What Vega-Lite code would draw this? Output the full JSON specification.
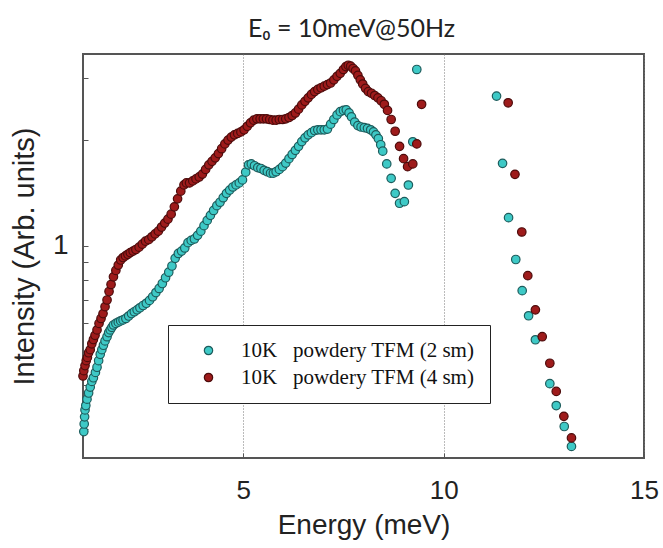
{
"$schema": "https://vega.github.io/schema/vega-lite/v6.json",
"width": 561, "height": 404,
"autosize": "none",
"padding": {"left": 83, "top": 54, "right": 19, "bottom": 90},
"background": "white",
"title": {"text": "E₀ = 10meV@50Hz", "font": "Lato", "fontSize": 25, "fontWeight": "normal", "color": "#222", "offset": 12, "dx": -12},
"config": {"view": {"stroke": "#555", "strokeWidth": 2}},
"data": {"values": [
{"s":"2 sm","E":1.02,"I":0.295},{"s":"2 sm","E":1.03,"I":0.31},{"s":"2 sm","E":1.04,"I":0.325},{"s":"2 sm","E":1.05,"I":0.34},{"s":"2 sm","E":1.07,"I":0.35},{"s":"2 sm","E":1.10,"I":0.365},{"s":"2 sm","E":1.14,"I":0.38},{"s":"2 sm","E":1.18,"I":0.395},{"s":"2 sm","E":1.22,"I":0.41},{"s":"2 sm","E":1.26,"I":0.42},{"s":"2 sm","E":1.31,"I":0.435},{"s":"2 sm","E":1.35,"I":0.45},{"s":"2 sm","E":1.39,"I":0.47},{"s":"2 sm","E":1.43,"I":0.49},{"s":"2 sm","E":1.47,"I":0.505},{"s":"2 sm","E":1.51,"I":0.52},{"s":"2 sm","E":1.55,"I":0.535},{"s":"2 sm","E":1.60,"I":0.55},{"s":"2 sm","E":1.64,"I":0.565},{"s":"2 sm","E":1.68,"I":0.575},{"s":"2 sm","E":1.72,"I":0.585},{"s":"2 sm","E":1.76,"I":0.594},{"s":"2 sm","E":1.82,"I":0.6},{"s":"2 sm","E":1.88,"I":0.605},{"s":"2 sm","E":1.94,"I":0.61},{"s":"2 sm","E":2.00,"I":0.614},{"s":"2 sm","E":2.07,"I":0.62},{"s":"2 sm","E":2.14,"I":0.63},{"s":"2 sm","E":2.21,"I":0.64},{"s":"2 sm","E":2.28,"I":0.648},{"s":"2 sm","E":2.35,"I":0.656},{"s":"2 sm","E":2.42,"I":0.665},{"s":"2 sm","E":2.50,"I":0.675},{"s":"2 sm","E":2.58,"I":0.685},{"s":"2 sm","E":2.66,"I":0.698},{"s":"2 sm","E":2.74,"I":0.715},{"s":"2 sm","E":2.82,"I":0.735},{"s":"2 sm","E":2.90,"I":0.755},{"s":"2 sm","E":2.98,"I":0.78},{"s":"2 sm","E":3.06,"I":0.81},{"s":"2 sm","E":3.14,"I":0.84},{"s":"2 sm","E":3.22,"I":0.875},{"s":"2 sm","E":3.30,"I":0.92},{"s":"2 sm","E":3.38,"I":0.95},{"s":"2 sm","E":3.46,"I":0.965},{"s":"2 sm","E":3.54,"I":0.985},{"s":"2 sm","E":3.62,"I":1.02},{"s":"2 sm","E":3.70,"I":1.035},{"s":"2 sm","E":3.78,"I":1.045},{"s":"2 sm","E":3.86,"I":1.07},{"s":"2 sm","E":3.94,"I":1.10},{"s":"2 sm","E":4.02,"I":1.14},{"s":"2 sm","E":4.10,"I":1.18},{"s":"2 sm","E":4.18,"I":1.22},{"s":"2 sm","E":4.26,"I":1.26},{"s":"2 sm","E":4.34,"I":1.30},{"s":"2 sm","E":4.42,"I":1.33},{"s":"2 sm","E":4.50,"I":1.37},{"s":"2 sm","E":4.58,"I":1.41},{"s":"2 sm","E":4.66,"I":1.44},{"s":"2 sm","E":4.74,"I":1.47},{"s":"2 sm","E":4.82,"I":1.49},{"s":"2 sm","E":4.90,"I":1.51},{"s":"2 sm","E":4.98,"I":1.54},{"s":"2 sm","E":5.06,"I":1.62},{"s":"2 sm","E":5.13,"I":1.70},{"s":"2 sm","E":5.20,"I":1.71},{"s":"2 sm","E":5.28,"I":1.69},{"s":"2 sm","E":5.36,"I":1.67},{"s":"2 sm","E":5.44,"I":1.66},{"s":"2 sm","E":5.52,"I":1.64},{"s":"2 sm","E":5.60,"I":1.625},{"s":"2 sm","E":5.68,"I":1.61},{"s":"2 sm","E":5.75,"I":1.61},{"s":"2 sm","E":5.82,"I":1.625},{"s":"2 sm","E":5.90,"I":1.65},{"s":"2 sm","E":5.98,"I":1.68},{"s":"2 sm","E":6.06,"I":1.72},{"s":"2 sm","E":6.14,"I":1.77},{"s":"2 sm","E":6.22,"I":1.82},{"s":"2 sm","E":6.30,"I":1.87},{"s":"2 sm","E":6.38,"I":1.92},{"s":"2 sm","E":6.46,"I":1.98},{"s":"2 sm","E":6.54,"I":2.03},{"s":"2 sm","E":6.62,"I":2.07},{"s":"2 sm","E":6.70,"I":2.10},{"s":"2 sm","E":6.78,"I":2.13},{"s":"2 sm","E":6.86,"I":2.14},{"s":"2 sm","E":6.94,"I":2.14},{"s":"2 sm","E":7.02,"I":2.14},{"s":"2 sm","E":7.10,"I":2.15},{"s":"2 sm","E":7.18,"I":2.22},{"s":"2 sm","E":7.26,"I":2.29},{"s":"2 sm","E":7.34,"I":2.36},{"s":"2 sm","E":7.42,"I":2.41},{"s":"2 sm","E":7.50,"I":2.43},{"s":"2 sm","E":7.57,"I":2.44},{"s":"2 sm","E":7.64,"I":2.39},{"s":"2 sm","E":7.70,"I":2.33},{"s":"2 sm","E":7.78,"I":2.25},{"s":"2 sm","E":7.86,"I":2.20},{"s":"2 sm","E":7.94,"I":2.18},{"s":"2 sm","E":8.02,"I":2.17},{"s":"2 sm","E":8.10,"I":2.16},{"s":"2 sm","E":8.18,"I":2.14},{"s":"2 sm","E":8.25,"I":2.11},{"s":"2 sm","E":8.31,"I":2.07},{"s":"2 sm","E":8.37,"I":2.02},{"s":"2 sm","E":8.43,"I":1.94},{"s":"2 sm","E":8.48,"I":1.86},{"s":"2 sm","E":8.58,"I":1.71},{"s":"2 sm","E":8.69,"I":1.556},{"s":"2 sm","E":8.79,"I":1.41},{"s":"2 sm","E":8.90,"I":1.321},{"s":"2 sm","E":9.02,"I":1.335},{"s":"2 sm","E":9.12,"I":1.489},{"s":"2 sm","E":9.23,"I":1.978},{"s":"2 sm","E":9.33,"I":3.18},
{"s":"2 sm","E":11.32,"I":2.67},{"s":"2 sm","E":11.47,"I":1.717},{"s":"2 sm","E":11.62,"I":1.202},{"s":"2 sm","E":11.80,"I":0.913},{"s":"2 sm","E":11.96,"I":0.744},{"s":"2 sm","E":12.12,"I":0.631},{"s":"2 sm","E":12.29,"I":0.539},{"s":"2 sm","E":12.65,"I":0.404},{"s":"2 sm","E":12.81,"I":0.35},{"s":"2 sm","E":13.01,"I":0.305},{"s":"2 sm","E":13.19,"I":0.2676},
{"s":"4 sm","E":1.00,"I":0.425},{"s":"4 sm","E":1.02,"I":0.44},{"s":"4 sm","E":1.05,"I":0.455},{"s":"4 sm","E":1.08,"I":0.47},{"s":"4 sm","E":1.11,"I":0.48},{"s":"4 sm","E":1.14,"I":0.495},{"s":"4 sm","E":1.18,"I":0.505},{"s":"4 sm","E":1.22,"I":0.525},{"s":"4 sm","E":1.26,"I":0.54},{"s":"4 sm","E":1.30,"I":0.555},{"s":"4 sm","E":1.35,"I":0.575},{"s":"4 sm","E":1.40,"I":0.60},{"s":"4 sm","E":1.45,"I":0.62},{"s":"4 sm","E":1.50,"I":0.64},{"s":"4 sm","E":1.55,"I":0.67},{"s":"4 sm","E":1.60,"I":0.70},{"s":"4 sm","E":1.65,"I":0.74},{"s":"4 sm","E":1.70,"I":0.775},{"s":"4 sm","E":1.76,"I":0.815},{"s":"4 sm","E":1.82,"I":0.85},{"s":"4 sm","E":1.88,"I":0.88},{"s":"4 sm","E":1.94,"I":0.91},{"s":"4 sm","E":2.00,"I":0.925},{"s":"4 sm","E":2.06,"I":0.935},{"s":"4 sm","E":2.12,"I":0.945},{"s":"4 sm","E":2.18,"I":0.955},{"s":"4 sm","E":2.25,"I":0.965},{"s":"4 sm","E":2.32,"I":0.975},{"s":"4 sm","E":2.40,"I":0.99},{"s":"4 sm","E":2.48,"I":1.01},{"s":"4 sm","E":2.56,"I":1.03},{"s":"4 sm","E":2.64,"I":1.04},{"s":"4 sm","E":2.72,"I":1.06},{"s":"4 sm","E":2.80,"I":1.08},{"s":"4 sm","E":2.88,"I":1.10},{"s":"4 sm","E":2.96,"I":1.13},{"s":"4 sm","E":3.04,"I":1.16},{"s":"4 sm","E":3.12,"I":1.19},{"s":"4 sm","E":3.20,"I":1.23},{"s":"4 sm","E":3.28,"I":1.29},{"s":"4 sm","E":3.36,"I":1.36},{"s":"4 sm","E":3.44,"I":1.43},{"s":"4 sm","E":3.52,"I":1.49},{"s":"4 sm","E":3.58,"I":1.51},{"s":"4 sm","E":3.66,"I":1.51},{"s":"4 sm","E":3.74,"I":1.53},{"s":"4 sm","E":3.82,"I":1.55},{"s":"4 sm","E":3.90,"I":1.57},{"s":"4 sm","E":3.98,"I":1.60},{"s":"4 sm","E":4.06,"I":1.65},{"s":"4 sm","E":4.14,"I":1.70},{"s":"4 sm","E":4.22,"I":1.74},{"s":"4 sm","E":4.30,"I":1.78},{"s":"4 sm","E":4.38,"I":1.83},{"s":"4 sm","E":4.46,"I":1.89},{"s":"4 sm","E":4.54,"I":1.95},{"s":"4 sm","E":4.62,"I":2.00},{"s":"4 sm","E":4.70,"I":2.04},{"s":"4 sm","E":4.78,"I":2.07},{"s":"4 sm","E":4.86,"I":2.09},{"s":"4 sm","E":4.94,"I":2.11},{"s":"4 sm","E":5.02,"I":2.14},{"s":"4 sm","E":5.10,"I":2.19},{"s":"4 sm","E":5.18,"I":2.24},{"s":"4 sm","E":5.26,"I":2.28},{"s":"4 sm","E":5.34,"I":2.30},{"s":"4 sm","E":5.42,"I":2.30},{"s":"4 sm","E":5.50,"I":2.30},{"s":"4 sm","E":5.58,"I":2.30},{"s":"4 sm","E":5.66,"I":2.29},{"s":"4 sm","E":5.74,"I":2.28},{"s":"4 sm","E":5.82,"I":2.28},{"s":"4 sm","E":5.90,"I":2.29},{"s":"4 sm","E":5.98,"I":2.29},{"s":"4 sm","E":6.06,"I":2.30},{"s":"4 sm","E":6.14,"I":2.32},{"s":"4 sm","E":6.22,"I":2.35},{"s":"4 sm","E":6.30,"I":2.39},{"s":"4 sm","E":6.38,"I":2.45},{"s":"4 sm","E":6.46,"I":2.52},{"s":"4 sm","E":6.54,"I":2.58},{"s":"4 sm","E":6.62,"I":2.64},{"s":"4 sm","E":6.70,"I":2.70},{"s":"4 sm","E":6.78,"I":2.75},{"s":"4 sm","E":6.86,"I":2.79},{"s":"4 sm","E":6.94,"I":2.82},{"s":"4 sm","E":7.02,"I":2.85},{"s":"4 sm","E":7.10,"I":2.88},{"s":"4 sm","E":7.18,"I":2.91},{"s":"4 sm","E":7.26,"I":2.97},{"s":"4 sm","E":7.34,"I":3.04},{"s":"4 sm","E":7.42,"I":3.10},{"s":"4 sm","E":7.50,"I":3.18},{"s":"4 sm","E":7.56,"I":3.24},{"s":"4 sm","E":7.62,"I":3.27},{"s":"4 sm","E":7.68,"I":3.25},{"s":"4 sm","E":7.74,"I":3.20},{"s":"4 sm","E":7.80,"I":3.15},{"s":"4 sm","E":7.86,"I":3.06},{"s":"4 sm","E":7.92,"I":2.97},{"s":"4 sm","E":7.98,"I":2.89},{"s":"4 sm","E":8.05,"I":2.81},{"s":"4 sm","E":8.12,"I":2.75},{"s":"4 sm","E":8.20,"I":2.72},{"s":"4 sm","E":8.28,"I":2.68},{"s":"4 sm","E":8.36,"I":2.64},{"s":"4 sm","E":8.44,"I":2.59},{"s":"4 sm","E":8.52,"I":2.53},{"s":"4 sm","E":8.60,"I":2.43},{"s":"4 sm","E":8.69,"I":2.29},{"s":"4 sm","E":8.79,"I":2.12},{"s":"4 sm","E":8.90,"I":1.92},{"s":"4 sm","E":9.00,"I":1.77},{"s":"4 sm","E":9.10,"I":1.68},{"s":"4 sm","E":9.23,"I":1.71},{"s":"4 sm","E":9.33,"I":1.95},{"s":"4 sm","E":9.45,"I":2.53},
{"s":"4 sm","E":11.61,"I":2.555},{"s":"4 sm","E":11.78,"I":1.597},{"s":"4 sm","E":11.95,"I":1.094},{"s":"4 sm","E":12.10,"I":0.821},{"s":"4 sm","E":12.29,"I":0.656},{"s":"4 sm","E":12.46,"I":0.55},{"s":"4 sm","E":12.65,"I":0.462},{"s":"4 sm","E":12.81,"I":0.384},{"s":"4 sm","E":13.00,"I":0.326},{"s":"4 sm","E":13.19,"I":0.283}
]},
"mark": {"type": "point", "filled": true, "size": 72, "strokeWidth": 1.2, "opacity": 1},
"encoding": {
  "x": {"field": "E", "type": "quantitative", "scale": {"domain": [1, 15], "nice": false, "zero": false},
    "axis": {"values": [5, 10, 15], "title": "Energy (meV)", "titleFont": "Liberation Sans", "titleFontSize": 28, "titleFontWeight": "normal", "titleColor": "#222", "titlePadding": 8,
      "labelFont": "Liberation Sans", "labelFontSize": 26, "labelColor": "#222", "labelPadding": 24, "labelFlush": false,
      "tickSize": -5, "tickColor": "#555", "domain": false, "grid": true, "gridDash": [1, 2], "gridColor": "#777"}},
  "y": {"field": "I", "type": "quantitative", "scale": {"type": "log", "domain": [0.248, 3.52], "nice": false},
    "axis": {"values": [0.3, 0.4, 0.5, 0.6, 0.7, 0.8, 0.9, 1, 2, 3], "labelExpr": "datum.value == 1 ? '1' : ''", "title": "Intensity (Arb. units)", "titleFont": "Liberation Sans", "titleFontSize": 29, "titleFontWeight": "normal", "titleColor": "#222", "titlePadding": 13,
      "labelFont": "Liberation Sans", "labelFontSize": 28, "labelColor": "#222", "labelPadding": 20,
      "tickSize": -5, "tickColor": "#555", "domain": false, "grid": false}},
  "color": {"field": "s", "type": "nominal", "scale": {"domain": ["2 sm", "4 sm"], "range": ["#3ec9c6", "#9e1b1b"]},
    "legend": {"title": null, "orient": "none", "legendX": 85, "legendY": 271, "direction": "vertical", "strokeColor": "#222", "fillColor": "white", "padding": 15,
      "symbolType": "circle", "symbolSize": 70, "symbolStrokeWidth": 1.2, "symbolOffset": 15, "labelOffset": 22, "rowPadding": 5, "labelLimit": 400,
      "labelFont": "Liberation Serif", "labelFontSize": 21, "labelColor": "#111", "labelExpr": "'10K\u00a0\u00a0\u00a0powdery TFM (' + datum.label + ')'"}},
  "stroke": {"field": "s", "type": "nominal", "scale": {"domain": ["2 sm", "4 sm"], "range": ["#1d5c5c", "#4d0b0b"]},
    "legend": {"title": null, "orient": "none", "legendX": 85, "legendY": 271, "direction": "vertical", "strokeColor": "#222", "fillColor": "white", "padding": 15,
      "symbolType": "circle", "symbolSize": 70, "symbolStrokeWidth": 1.2, "symbolOffset": 15, "labelOffset": 22, "rowPadding": 5, "labelLimit": 400,
      "labelFont": "Liberation Serif", "labelFontSize": 21, "labelColor": "#111", "labelExpr": "'10K\u00a0\u00a0\u00a0powdery TFM (' + datum.label + ')'"}}
}
}
